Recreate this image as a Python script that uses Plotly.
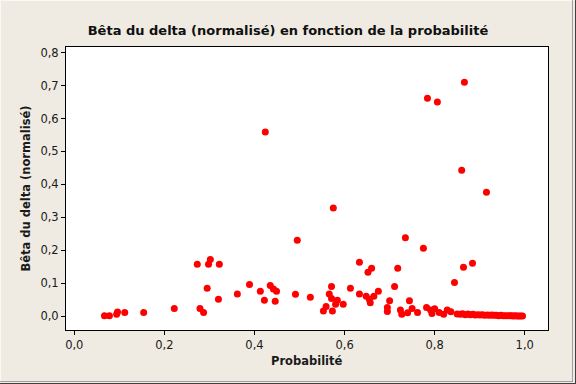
import plotly.graph_objects as go

title_text = "Bêta du delta (normalisé) en fonction de la probabilité"
x_label = "Probabilité"
y_label = "Bêta du delta (normalisé)"

x_ticks = [0.0, 0.2, 0.4, 0.6, 0.8, 1.0]
x_tick_labels = ["0,0", "0,2", "0,4", "0,6", "0,8", "1,0"]
y_ticks = [0.0, 0.1, 0.2, 0.3, 0.4, 0.5, 0.6, 0.7, 0.8]
y_tick_labels = ["0,0", "0,1", "0,2", "0,3", "0,4", "0,5", "0,6", "0,7", "0,8"]

probabilite = [
    0.067, 0.078, 0.094, 0.096, 0.112, 0.154, 0.222, 0.273, 0.279, 0.287,
    0.298, 0.302, 0.295, 0.322, 0.320, 0.362, 0.389, 0.413, 0.422, 0.424,
    0.435, 0.442, 0.449, 0.446, 0.495, 0.491, 0.524, 0.571, 0.566, 0.571,
    0.584, 0.580, 0.597, 0.559, 0.553, 0.573, 0.575, 0.613, 0.633, 0.633,
    0.648, 0.655, 0.657, 0.665, 0.675, 0.652, 0.660, 0.711, 0.718, 0.700,
    0.695, 0.695, 0.724, 0.727, 0.735, 0.740, 0.744, 0.750, 0.762, 0.775,
    0.782, 0.784, 0.791, 0.794, 0.800, 0.806, 0.810, 0.820, 0.828, 0.836,
    0.844, 0.860, 0.864, 0.866, 0.884, 0.915,
    0.850, 0.857, 0.862, 0.868, 0.874, 0.879, 0.885, 0.890, 0.896, 0.901,
    0.906, 0.911, 0.917, 0.922, 0.927, 0.932, 0.937, 0.942, 0.947, 0.952,
    0.957, 0.962, 0.967, 0.971, 0.975, 0.979, 0.983, 0.987, 0.991, 0.995,
]
beta_delta = [
    0.001, 0.001, 0.005, 0.012, 0.011, 0.011, 0.023, 0.157, 0.023, 0.011,
    0.157, 0.172, 0.084, 0.157, 0.051, 0.067, 0.096, 0.075, 0.048, 0.559,
    0.093, 0.082, 0.075, 0.045, 0.230, 0.066, 0.057, 0.090, 0.067, 0.053,
    0.048, 0.036, 0.036, 0.029, 0.015, 0.015, 0.328, 0.084, 0.067, 0.163,
    0.060, 0.051, 0.040, 0.060, 0.075, 0.133, 0.145, 0.090, 0.145, 0.046,
    0.026, 0.014, 0.018, 0.005, 0.238, 0.010, 0.046, 0.023, 0.011, 0.206,
    0.026, 0.662, 0.018, 0.008, 0.022, 0.650, 0.011, 0.005, 0.018, 0.013,
    0.102, 0.443, 0.148, 0.710, 0.160, 0.376,
    0.006, 0.005, 0.007, 0.004, 0.006, 0.004, 0.005, 0.003, 0.004, 0.003,
    0.004, 0.002, 0.003, 0.002, 0.003, 0.002, 0.002, 0.001, 0.002, 0.001,
    0.001, 0.001, 0.001, 0.001, 0.000, 0.001, 0.000, 0.000, 0.000, 0.000,
]

BG = "#EFEBE2"
FONT = "DejaVu Sans"

fig = go.Figure(go.Scatter(
    x=probabilite, y=beta_delta, mode="markers",
    marker=dict(color="#FF0000", size=7, line=dict(width=0)),
    hoverinfo="skip",
))

L, R, T, B = 66, 28, 47, 54
W, H = 576, 384
pw, ph = W - L - R, H - T - B


def px_x(p):
    return (p - L) / pw


def px_y(p):
    return (330 - p) / ph


fig.update_layout(
    width=W, height=H,
    margin=dict(l=L, r=R, t=T, b=B, pad=0),
    paper_bgcolor=BG, plot_bgcolor="white",
    showlegend=False,
    font=dict(family=FONT, size=11, color="#1a1a1a"),
    title=dict(text="<b>" + title_text + "</b>", x=0.5, xref="container",
               y=1 - 30 / H, yref="container", xanchor="center", yanchor="middle",
               font=dict(family=FONT, size=13, color="#101010")),
)
fig.update_xaxes(
    range=[-0.0184, 1.0516], tickvals=x_ticks, ticktext=x_tick_labels,
    showgrid=False, zeroline=False, showline=True, mirror=True,
    linecolor="black", linewidth=1, ticks="outside", ticklen=4,
    tickcolor="black", tickfont=dict(family=FONT, size=11.5),
)
fig.update_yaxes(
    range=[-0.0425, 0.8174], tickvals=y_ticks, ticktext=y_tick_labels,
    showgrid=False, zeroline=False, showline=True, mirror=True,
    linecolor="black", linewidth=1, ticks="outside", ticklen=4,
    tickcolor="black", tickfont=dict(family=FONT, size=11.5),
)
fig.add_annotation(text="<b>" + x_label + "</b>", xref="paper", yref="paper",
                   x=0.5, y=px_y(361), xanchor="center", yanchor="middle",
                   showarrow=False, font=dict(family=FONT, size=11.5))
fig.add_annotation(text="<b>" + y_label + "</b>", xref="paper", yref="paper",
                   x=px_x(25), y=0.5, xanchor="center", yanchor="middle",
                   textangle=-90, showarrow=False, font=dict(family=FONT, size=11.5))

# window-style bevel frame
frame_lines = [
    (0.5, 0, 0.5, 384, "#FAF8F4"),
    (0, 0.5, 576, 0.5, "#FAF8F4"),
    (572.5, 0, 572.5, 381.5, "#A0A0A0"),
    (0, 381.5, 573, 381.5, "#A0A0A0"),
    (575.5, 0, 575.5, 384, "#404040"),
    (0, 383.5, 576, 383.5, "#404040"),
]
for x0, y0, x1, y1, c in frame_lines:
    fig.add_shape(type="line", xref="paper", yref="paper",
                  x0=px_x(x0), y0=px_y(y0), x1=px_x(x1), y1=px_y(y1),
                  line=dict(color=c, width=1), layer="below")

fig.write_html(
    "out.html",
    config={"displayModeBar": False},
    post_script="document.body.style.margin='0';document.body.style.overflow='hidden';",
)
